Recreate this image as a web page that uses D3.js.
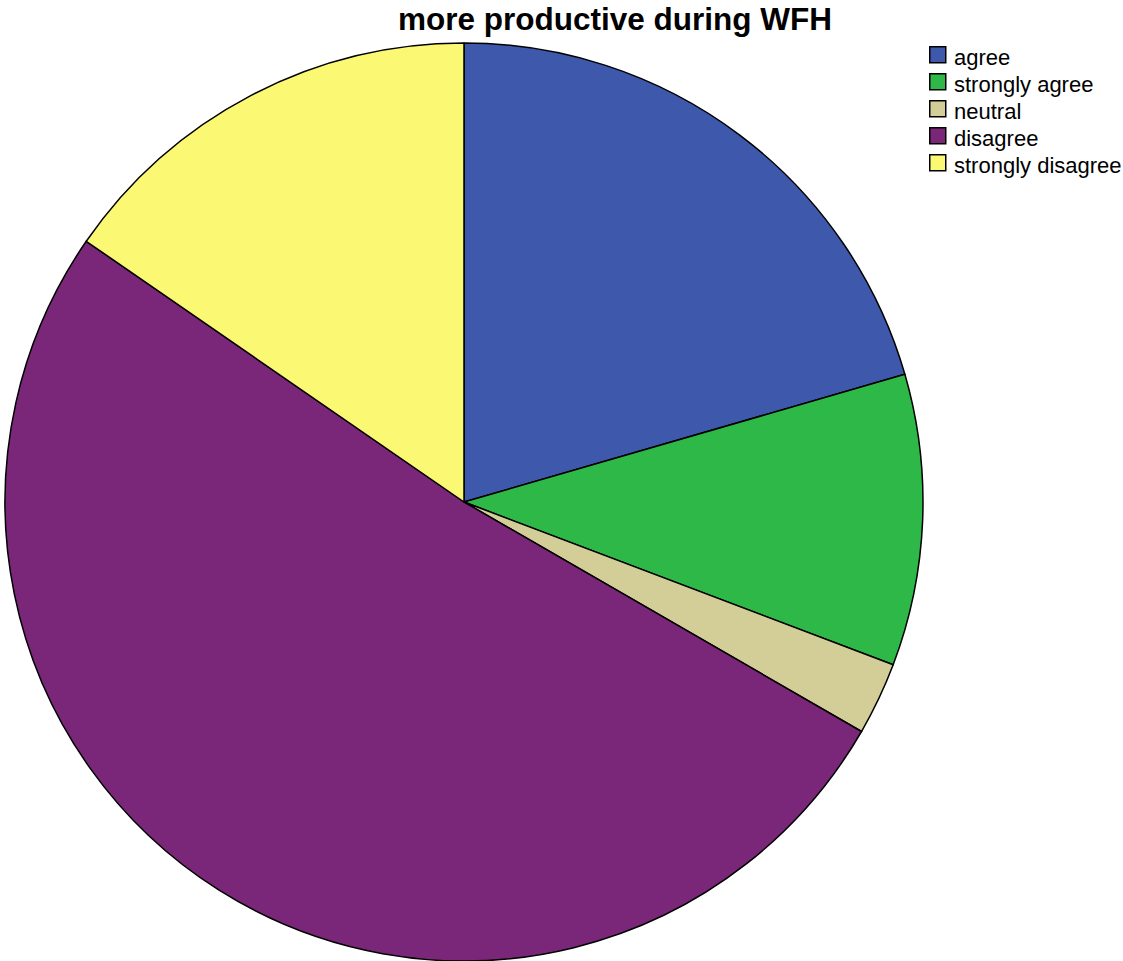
<!DOCTYPE html>
<html>
<head>
<meta charset="utf-8">
<script src="https://cdn.jsdelivr.net/npm/d3@7"></script>
<style>
  html, body { margin: 0; padding: 0; background: #fff; }
  svg { display: block; }
</style>
</head>
<body>
<svg id="chart" width="1123" height="961"></svg>
<script>
// Survey responses: "more productive during WFH"
const categories = ["agree", "strongly agree", "neutral", "disagree", "strongly disagree"];
const counts = [8, 4, 1, 20, 6];
const colors = ["#3e58ac", "#2eb848", "#d3ce97", "#7b2779", "#fbf873"];
const title = "more productive during WFH";

const svg = d3.select("#chart");
const cx = 464, cy = 502, radius = 459;

const data = categories.map((c, i) => ({ label: c, value: counts[i], color: colors[i] }));

// Slices run clockwise from 12 o'clock in category order
const pie = d3.pie().sort(null).value(d => d.value);
const arc = d3.arc().innerRadius(0).outerRadius(radius);

svg.append("g")
  .attr("transform", `translate(${cx},${cy})`)
  .selectAll("path")
  .data(pie(data))
  .join("path")
  .attr("d", arc)
  .attr("fill", d => d.data.color)
  .attr("stroke", "#000")
  .attr("stroke-width", 1.5)
  .attr("stroke-linejoin", "round");

// Title
svg.append("text")
  .attr("x", 615)
  .attr("y", 30)
  .attr("text-anchor", "middle")
  .attr("font-family", "'Liberation Sans', Arial, sans-serif")
  .attr("font-weight", "bold")
  .attr("font-size", 31.5)
  .attr("fill", "#000")
  .text(title);

// Legend
const legend = svg.append("g").attr("transform", "translate(929,46)");
const rowH = 27;
const rows = legend.selectAll("g")
  .data(data)
  .join("g")
  .attr("transform", (d, i) => `translate(0,${i * rowH})`);

rows.append("rect")
  .attr("x", 0.75).attr("y", 0.75)
  .attr("width", 16).attr("height", 16)
  .attr("fill", d => d.color)
  .attr("stroke", "#000")
  .attr("stroke-width", 1.5);

rows.append("text")
  .attr("x", 25)
  .attr("y", 19)
  .attr("font-family", "'Liberation Sans', Arial, sans-serif")
  .attr("font-size", 22)
  .attr("fill", "#000")
  .text(d => d.label);
</script>
</body>
</html>
